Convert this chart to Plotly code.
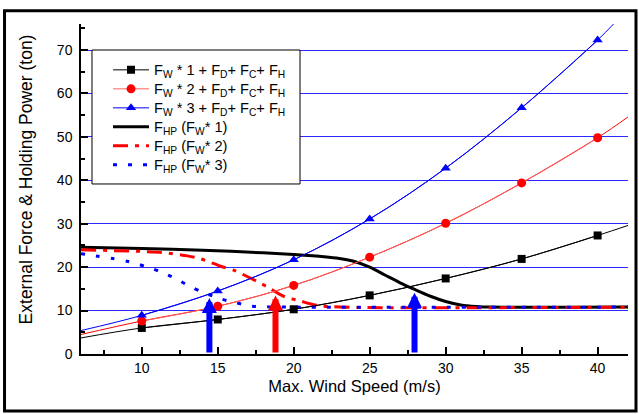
import plotly.graph_objects as go

# ---- data ----
wind_speed = [10, 15, 20, 25, 30, 35, 40]
fw1 = [6.0, 7.95, 10.3, 13.5, 17.4, 21.9, 27.3]
fw2 = [7.6, 11.0, 15.8, 22.3, 30.1, 39.4, 49.8]
fw3 = [8.9, 14.5, 21.7, 31.1, 42.8, 56.7, 72.3]

# fitted curves (thin lines) through the markers, extended to the axis edges
fit1_x = [6, 10, 15, 20, 25, 30, 35, 40, 42]
fit1_y = [3.7, 6.0, 7.95, 10.3, 13.5, 17.4, 21.9, 27.3, 29.6]
fit2_x = [6, 10, 15, 20, 25, 30, 35, 40, 42]
fit2_y = [4.5, 7.6, 11.0, 15.8, 22.3, 30.1, 39.4, 49.8, 54.6]
fit3_x = [6, 10, 15, 20, 25, 30, 35, 40, 41.05]
fit3_y = [5.4, 8.9, 14.5, 21.7, 31.1, 42.8, 56.7, 72.3, 76.0]

# holding power curves
hp1_x = [6, 10, 14, 18, 20, 22, 23, 24, 25, 26, 27, 28, 29, 30, 31, 32, 33, 42]
hp1_y = [24.6, 24.3, 23.9, 23.3, 22.9, 22.4, 22.0, 21.3, 20.0, 18.2, 16.4, 14.8, 13.3, 12.1, 11.3, 10.95, 10.8, 10.8]
hp2_x = [6, 10.2, 11.3, 13.0, 13.9, 15.2, 16.05, 17.14, 18.24, 19.33, 20.43, 21.53, 23.06, 42]
hp2_y = [24.0, 23.6, 23.4, 22.6, 21.9, 20.2, 19.3, 17.5, 15.5, 13.3, 12.2, 11.2, 10.8, 10.8]
hp3_x = [6, 7.1, 8.1, 9.1, 10.2, 11.2, 12.2, 13.2, 14.1, 15.2, 16.2, 17.3, 18.4, 20, 42]
hp3_y = [23.1, 22.5, 22.0, 21.3, 20.2, 19.0, 17.4, 15.5, 14.1, 12.7, 11.8, 11.0, 10.85, 10.8, 10.8]

# intersection arrows
arrow_x = [14.45, 18.8, 27.95]
arrow_top = [12.9, 13.5, 14.1]
arrow_color = ["#0000FF", "#FF0000", "#0000FF"]

x_range = [6, 42]
y_range = [0, 76]
x_ticks = [10, 15, 20, 25, 30, 35, 40]
y_ticks = [0, 10, 20, 30, 40, 50, 60, 70]

names = [
    "F<sub>W</sub> * 1 + F<sub>D</sub>+ F<sub>C</sub>+ F<sub>H</sub>",
    "F<sub>W</sub> * 2 + F<sub>D</sub>+ F<sub>C</sub>+ F<sub>H</sub>",
    "F<sub>W</sub> * 3 + F<sub>D</sub>+ F<sub>C</sub>+ F<sub>H</sub>",
    "F<sub>HP</sub> (F<sub>W</sub>* 1)",
    "F<sub>HP</sub> (F<sub>W</sub>* 2)",
    "F<sub>HP</sub> (F<sub>W</sub>* 3)",
]
names = ['<span style="font-size:14.6px">' + n + '</span>' for n in names]

FONT = "Arial, 'Liberation Sans', sans-serif"
BLACK, RED, BLUE = "#000000", "#FF0000", "#0000FF"

fig = go.Figure()

# thin fitted lines (no legend)
for fx, fy, c in [(fit1_x, fit1_y, BLACK), (fit2_x, fit2_y, RED), (fit3_x, fit3_y, BLUE)]:
    fig.add_trace(go.Scatter(x=fx, y=fy, mode="lines", line=dict(color=c, width=1, shape="spline"),
                             showlegend=False, hoverinfo="skip"))

# holding power curves
fig.add_trace(go.Scatter(x=hp1_x, y=hp1_y, mode="lines", name=names[3], legendrank=4,
                         line=dict(color=BLACK, width=3, shape="spline", smoothing=0.8)))
fig.add_trace(go.Scatter(x=hp2_x, y=hp2_y, mode="lines", name=names[4], legendrank=5,
                         line=dict(color=RED, width=3, shape="spline", smoothing=0.8, dash="15px,7px,4px,7px")))
fig.add_trace(go.Scatter(x=hp3_x, y=hp3_y, mode="lines", name=names[5], legendrank=6,
                         line=dict(color=BLUE, width=3, shape="spline", smoothing=0.8, dash="4px,11px")))

# markers
fig.add_trace(go.Scatter(x=wind_speed, y=fw1, mode="lines+markers", name=names[0], legendrank=1,
                         line=dict(color=BLACK, width=1, shape="spline"),
                         marker=dict(symbol="square", size=8, color=BLACK)))
fig.add_trace(go.Scatter(x=wind_speed, y=fw2, mode="lines+markers", name=names[1], legendrank=2,
                         line=dict(color="#FF6060", width=1, shape="spline"),
                         marker=dict(symbol="circle", size=9, color=RED)))
fig.add_trace(go.Scatter(x=wind_speed, y=fw3, mode="lines+markers", name=names[2], legendrank=3,
                         line=dict(color=BLUE, width=1, shape="spline"),
                         marker=dict(symbol="triangle-up", size=9, color=BLUE)))

for ax_, at, c in zip(arrow_x, arrow_top, arrow_color):
    fig.add_annotation(x=ax_, y=at, ax=ax_, ay=0, xref="x", yref="y", axref="x", ayref="y",
                       text="", showarrow=True, arrowhead=2, arrowsize=0.5, arrowwidth=6,
                       arrowcolor=c, standoff=0)

# y-axis title as annotation (placed as in reference)
fig.add_annotation(text="External Force & Holding Power (ton)", xref="paper", yref="paper",
                   x=-0.1, y=0.53, textangle=-90, showarrow=False,
                   font=dict(family=FONT, size=17.5, color=BLACK), xanchor="center", yanchor="middle")

# legend frame (drawn as a box, legend itself sits inside it)
fig.add_shape(type="rect", xref="paper", yref="paper", x0=0.0201, x1=0.4004, y0=0.5152, y1=0.9212,
              line=dict(color=BLACK, width=1), fillcolor="white", layer="above")

# outer frame
fig.add_shape(type="rect", xref="paper", yref="paper", x0=-0.1398, x1=1.0146, y0=-0.1727, y1=1.0398,
              line=dict(color=BLACK, width=3), fillcolor="rgba(0,0,0,0)", layer="above")

fig.update_layout(
    width=639, height=414,
    margin=dict(l=81, r=11, t=24, b=60),
    paper_bgcolor="white", plot_bgcolor="white",
    font=dict(family=FONT, size=14, color=BLACK),
    showlegend=True,
    legend=dict(x=0.0494, y=0.905, xanchor="left", yanchor="top",
                bgcolor="rgba(0,0,0,0)", borderwidth=0, itemwidth=36,
                font=dict(family=FONT, size=12, color=BLACK), tracegroupgap=0),
    xaxis=dict(range=x_range, tickvals=x_ticks, ticks="inside", ticklen=7, tickwidth=1.5,
               tickcolor=BLACK, showline=True, linecolor=BLACK, linewidth=1.5, mirror=False,
               showgrid=False, zeroline=False,
               minor=dict(dtick=2.5, tick0=0, ticks="inside", ticklen=4, tickcolor=BLACK, tickwidth=1.5),
               tickfont=dict(family=FONT, size=14),
               title=dict(text="Max. Wind Speed (m/s)", font=dict(family=FONT, size=16.5), standoff=6)),
    yaxis=dict(range=y_range, tickvals=y_ticks, ticks="inside", ticklen=7, tickwidth=1.5,
               tickcolor=BLACK, showline=True, linecolor=BLACK, linewidth=1.5, mirror=False,
               showgrid=True, gridcolor="#2a2aff", gridwidth=1.2, zeroline=False,
               minor=dict(dtick=5, tick0=0, ticks="inside", ticklen=4, tickcolor=BLACK, tickwidth=1.5,
                          showgrid=False),
               tickfont=dict(family=FONT, size=14), ticklabelstandoff=4),
)

fig.write_html("out.html")
